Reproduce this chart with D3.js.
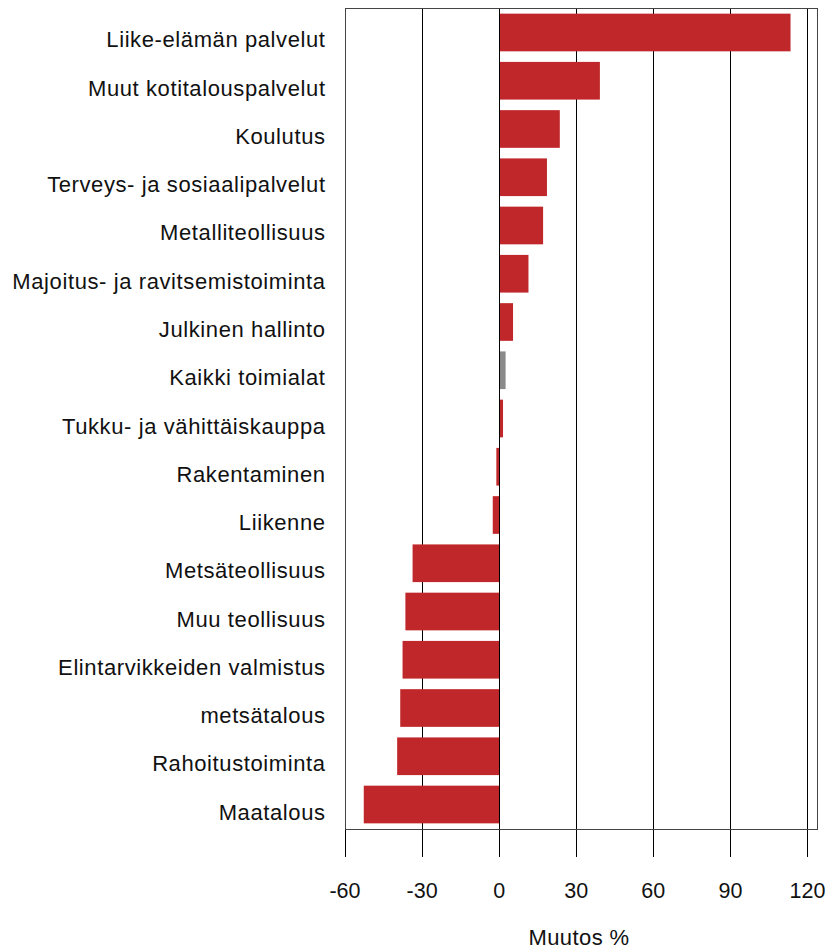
<!DOCTYPE html>
<html>
<head>
<meta charset="utf-8">
<script src="https://cdn.jsdelivr.net/npm/d3@7"></script>
<style>
	body { margin: 0; background: #fff; }
	text { font-family: "Liberation Sans", Arial, Helvetica, sans-serif; fill: #111; }
</style>
</head>
<body>
<script>
(function() {

	// categories, top to bottom
	var categories = [
		"Liike-elämän palvelut",
		"Muut kotitalouspalvelut",
		"Koulutus",
		"Terveys- ja sosiaalipalvelut",
		"Metalliteollisuus",
		"Majoitus- ja ravitsemistoiminta",
		"Julkinen hallinto",
		"Kaikki toimialat",
		"Tukku- ja vähittäiskauppa",
		"Rakentaminen",
		"Liikenne",
		"Metsäteollisuus",
		"Muu teollisuus",
		"Elintarvikkeiden valmistus",
		"metsätalous",
		"Rahoitustoiminta",
		"Maatalous"
	];

	// change in percent
	var values = [113.4, 39.2, 23.6, 18.6, 17.1, 11.4, 5.4, 2.5, 1.5, -1.1, -2.5,
		-33.7, -36.5, -37.6, -38.5, -39.7, -52.7];

	var highlight = ["Kaikki toimialat"];

	var tickValues = [-60, -30, 0, 30, 60, 90, 120];
	var axisTitle = "Muutos %";

	var data = categories.map(function(c, i) {
		return { name: c, value: values[i] };
	});

	var width = 832, height = 950;
	var box = { left: 345, right: 817, top: 8, bottom: 829 };

	var svg = d3.select("body")
		.append("svg")
		.attr("width", width)
		.attr("height", height);

	// x scale: -60 sits on the left edge of the box
	var x = d3.scaleLinear()
		.domain([-60, 123.7])
		.range([box.left, box.right]);

	var y = d3.scaleBand()
		.domain(categories)
		.range([box.top, box.bottom])
		.paddingInner(0.219)
		.paddingOuter(0.117);

	// grid lines + tick marks
	svg.append("g")
		.selectAll("line")
		.data(tickValues)
		.enter()
		.append("line")
		.attr("x1", function(d) { return Math.round(x(d)) + 0.5; })
		.attr("x2", function(d) { return Math.round(x(d)) + 0.5; })
		.attr("y1", box.top)
		.attr("y2", 857)
		.attr("stroke", "#000")
		.attr("stroke-width", 1);

	// bars
	svg.append("g")
		.selectAll("rect")
		.data(data)
		.enter()
		.append("rect")
		.attr("x", function(d) { return x(Math.min(0, d.value)); })
		.attr("y", function(d) { return y(d.name); })
		.attr("width", function(d) { return Math.abs(x(d.value) - x(0)); })
		.attr("height", y.bandwidth())
		.attr("fill", function(d) {
			return highlight.indexOf(d.name) >= 0 ? "#8a8a8a" : "#c0272a";
		});

	// zero line drawn over the bars
	svg.append("line")
		.attr("x1", Math.round(x(0)) + 0.5)
		.attr("x2", Math.round(x(0)) + 0.5)
		.attr("y1", box.top)
		.attr("y2", 857)
		.attr("stroke", "#000");

	// box
	svg.append("rect")
		.attr("x", box.left + 0.5)
		.attr("y", box.top + 0.5)
		.attr("width", box.right - box.left)
		.attr("height", box.bottom - box.top)
		.attr("fill", "none")
		.attr("stroke", "#444")
		.attr("stroke-width", 1);

	// category labels
	svg.append("g")
		.selectAll("text")
		.data(categories)
		.enter()
		.append("text")
		.attr("x", 325.6)
		.attr("y", function(d) { return y(d) + y.bandwidth() / 2 + 15; })
		.attr("text-anchor", "end")
		.style("font-size", "22px")
		.style("letter-spacing", "0.6px")
		.text(function(d) { return d; });

	// tick labels
	svg.append("g")
		.selectAll("text")
		.data(tickValues)
		.enter()
		.append("text")
		.attr("x", function(d) { return x(d); })
		.attr("y", 898)
		.attr("text-anchor", "middle")
		.style("font-size", "21.5px")
		.text(function(d) { return d; });

	svg.append("text")
		.attr("x", (box.left + box.right) / 2 - 2)
		.attr("y", 945)
		.attr("text-anchor", "middle")
		.style("font-size", "22px")
		.style("letter-spacing", "0.4px")
		.text(axisTitle);

})();
</script>
</body>
</html>
